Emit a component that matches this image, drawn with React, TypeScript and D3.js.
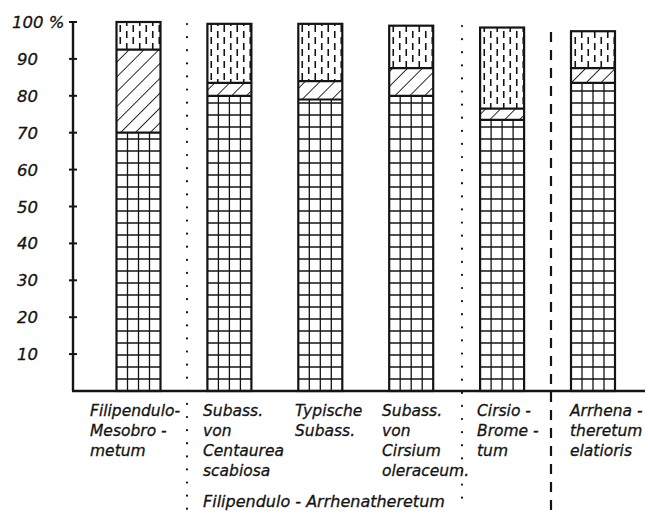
import React from "react";
import * as d3 from "d3";

const categories = ["Filipendulo-Mesobrometum", "Centaurea", "Typische", "Cirsium", "Cirsio-Brometum", "Arrhenatheretum"];
const gridValues = [70, 80, 79, 80, 73.5, 83.5];
const hatchValues = [22.5, 3.5, 5, 7.5, 3, 4];
const dashValues = [7.5, 16, 15.5, 11.5, 22, 10];
const yTicks = [10, 20, 30, 40, 50, 60, 70, 80, 90, 100];
const labelLines = [
  ["Filipendulo-", "Mesobro -", "metum"],
  ["Subass.", "von", "Centaurea", "scabiosa"],
  ["Typische", "Subass."],
  ["Subass.", "von", "Cirsium", "oleraceum."],
  ["Cirsio -", "Brome -", "tum"],
  ["Arrhena -", "theretum", "elatioris"],
];
const groupLabel = "Filipendulo - Arrhenatheretum";

const W = 648;
const H = 516;
const INK = "#141414";
const FONT = "'DejaVu Sans', Verdana, sans-serif";

export default function App() {
  const y = d3.scaleLinear().domain([0, 100]).range([391, 22]);
  const x = d3.scalePoint<string>().domain(categories).range([138.5, 593]);
  const bw = 44;
  const axisX = 73;
  const rowH = 12;
  const labelX = [90, 203, 295, 382, 477, 570];

  const bars = categories.map((c, i) => {
    const cx = x(c) as number;
    const x0 = cx - bw / 2;
    const g = gridValues[i];
    const h1 = g + hatchValues[i];
    const top = h1 + dashValues[i];
    return { c, i, x0, g, h1, top };
  });

  const textStyle = { stroke: INK, strokeWidth: 0.3 };

  return (
    <svg width={W} height={H} style={{ position: "absolute", left: 0, top: 0, background: "#fff" }}>
      <defs>
        <pattern id="hatch" width={10.5} height={10.5} patternUnits="userSpaceOnUse" patternTransform="rotate(45)">
          <line x1={0} y1={-1} x2={0} y2={12} stroke={INK} strokeWidth={1.8} />
        </pattern>
        <pattern id="dash" width={13} height={12} patternUnits="userSpaceOnUse">
          <line x1={3.25} y1={1} x2={3.25} y2={8} stroke={INK} strokeWidth={1.6} />
          <line x1={9.75} y1={7} x2={9.75} y2={14} stroke={INK} strokeWidth={1.6} />
          <line x1={9.75} y1={-5} x2={9.75} y2={2} stroke={INK} strokeWidth={1.6} />
        </pattern>
      </defs>
      <rect width={W} height={H} fill="#fff" />

      {/* separators */}
      <line x1={187} y1={24} x2={187} y2={514} stroke={INK} strokeWidth={2.2} strokeDasharray="0.1 13" strokeLinecap="round" />
      <line x1={462} y1={26} x2={462} y2={508} stroke={INK} strokeWidth={2.2} strokeDasharray="0.1 13" strokeLinecap="round" />
      <line x1={551} y1={32} x2={551} y2={514} stroke={INK} strokeWidth={2.2} strokeDasharray="10 8" />

      {/* bars */}
      {bars.map((b) => {
        const yg = y(b.g);
        const yh = y(b.h1);
        const yt = y(b.top);
        const base = y(0);
        const hLines: number[] = [];
        for (let yy = base - rowH; yy > yg + 2; yy -= rowH) hLines.push(yy);
        return (
          <g key={b.c}>
            <rect x={b.x0} y={yh} width={bw} height={yg - yh} fill="url(#hatch)" />
            <rect x={b.x0} y={yt} width={bw} height={yh - yt} fill="url(#dash)" />
            {[1, 2, 3].map((k) => (
              <line key={k} x1={b.x0 + (bw * k) / 4} x2={b.x0 + (bw * k) / 4} y1={yg} y2={base} stroke={INK} strokeWidth={1.3} />
            ))}
            {hLines.map((yy, k) => (
              <line key={k} x1={b.x0} x2={b.x0 + bw} y1={yy} y2={yy} stroke={INK} strokeWidth={1.5} />
            ))}
            <line x1={b.x0} x2={b.x0 + bw} y1={yg} y2={yg} stroke={INK} strokeWidth={2.2} />
            <line x1={b.x0} x2={b.x0 + bw} y1={yh} y2={yh} stroke={INK} strokeWidth={2.2} />
            <rect x={b.x0} y={yt} width={bw} height={base - yt} fill="none" stroke={INK} strokeWidth={2.2} />
          </g>
        );
      })}

      {/* axis */}
      <line x1={axisX} y1={y(100)} x2={axisX} y2={y(0)} stroke={INK} strokeWidth={2.4} />
      <line x1={axisX - 1} y1={y(0)} x2={645} y2={y(0)} stroke={INK} strokeWidth={2.4} />
      {yTicks.map((t) => (
        <g key={t}>
          <line x1={axisX - 4} x2={axisX + 4} y1={y(t)} y2={y(t)} stroke={INK} strokeWidth={2} />
          {t === 100 ? (
            <text x={12} y={y(t) + 6} fontFamily={FONT} fontStyle="italic" fontSize={16.5} fill={INK} style={textStyle}>
              100 %
            </text>
          ) : (
            <text x={38} y={y(t) + 6} textAnchor="end" fontFamily={FONT} fontStyle="italic" fontSize={16.5} fill={INK} style={textStyle}>
              {t}
            </text>
          )}
        </g>
      ))}

      {/* category labels */}
      {bars.map((b, i) => (
        <text key={b.c} fontFamily={FONT} fontStyle="italic" fontSize={15.5} fill={INK} style={textStyle}>
          {labelLines[i].map((ln, k) => (
            <tspan key={k} x={labelX[i]} y={416 + k * 20}>
              {ln}
            </tspan>
          ))}
        </text>
      ))}
      <text x={203} y={507} fontFamily={FONT} fontStyle="italic" fontSize={16} fill={INK} style={textStyle}>
        {groupLabel}
      </text>
    </svg>
  );
}
